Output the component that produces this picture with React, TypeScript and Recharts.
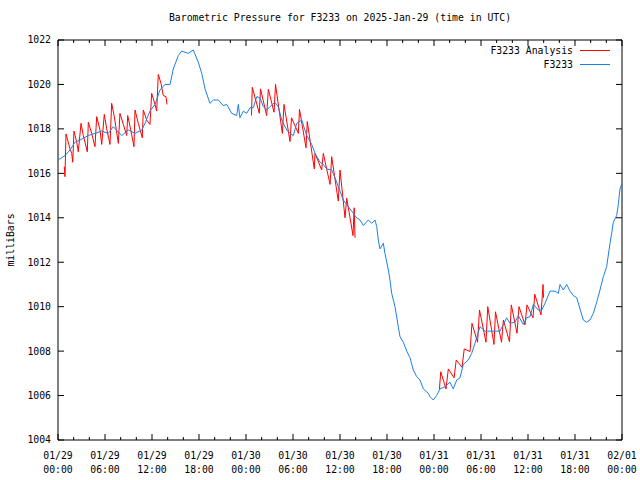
import { LineChart, Line, XAxis, YAxis, ReferenceArea } from "recharts";

// x axis: hours since 2025-01-29 00:00 UTC
const hourTicks = [0, 2, 4, 6, 8, 10, 12, 14, 16, 18, 20, 22, 24, 26, 28, 30, 32, 34, 36, 38, 40, 42, 44, 46, 48, 50, 52, 54, 56, 58, 60, 62, 64, 66, 68, 70, 72];
const dayLabels = ["01/29", "01/29", "01/29", "01/29", "01/30", "01/30", "01/30", "01/30", "01/31", "01/31", "01/31", "01/31", "02/01"];
const timeLabels = ["00:00", "06:00", "12:00", "18:00", "00:00", "06:00", "12:00", "18:00", "00:00", "06:00", "12:00", "18:00", "00:00"];
const pressureTicks = [1004, 1006, 1008, 1010, 1012, 1014, 1016, 1018, 1020, 1022];

// F3233 observations
const stationHours = [
  0, 0.89, 1.53, 2.17, 2.81, 3.87, 4.72, 5.58, 6.42, 7.06, 8.13, 8.97, 9.83, 10.69, 11.11, 11.74,
  12.38, 13.02, 13.66, 14.3, 14.72, 15.36, 15.79, 16.63, 17.27, 17.91, 18.35, 18.77, 19.4, 19.83,
  20.46, 21.1, 21.54, 22.17, 22.81, 23.02, 23.23, 23.66, 24.09, 24.51, 24.93, 25.37, 25.79, 26.21,
  26.64, 27.06, 27.7, 28.12, 28.56, 29.2, 29.62, 30.04, 30.48, 31.11, 31.75, 32.39, 32.81, 33.45,
  33.87, 34.3, 34.94, 35.36, 36.0, 36.42, 37.06, 37.49, 38.13, 38.55, 38.98, 39.61, 40.05, 40.47,
  40.69, 40.89, 41.11, 41.53, 41.74, 42.17, 42.38, 42.6, 43.02, 43.44, 43.66, 44.08, 44.52, 44.94,
  45.36, 45.79, 46.21, 46.64, 47.27, 47.49, 47.91, 48.34, 48.77, 49.4, 50.04, 50.46, 50.9, 51.32,
  51.74, 52.38, 52.81, 53.23, 53.87, 54.51, 55.15, 55.79, 56.43, 56.85, 57.28, 57.7, 58.34, 58.76,
  59.4, 59.83, 60.26, 60.68, 61.32, 61.75, 62.17, 62.81, 63.45, 63.87, 64.09, 64.51, 64.94, 65.36,
  65.79, 66.22, 66.64, 67.06, 67.49, 67.91, 68.34, 68.77, 69.19, 69.62, 70.04, 70.47, 70.68, 70.89,
  71.32, 71.53, 71.74, 72.0,
];
const stationPressure = [
  1016.6, 1016.8, 1017.05, 1017.4, 1017.5, 1017.7, 1017.8, 1017.9, 1017.8, 1018.1, 1017.7, 1017.95,
  1017.8, 1017.95, 1018.25, 1018.8, 1019.1, 1019.75, 1020.0, 1020.0, 1020.7, 1021.3, 1021.5, 1021.4,
  1021.55, 1021.0, 1020.5, 1019.8, 1019.15, 1019.3, 1019.3, 1019.05, 1019.1, 1018.7, 1018.6, 1019.1,
  1018.5, 1018.8, 1018.7, 1018.95, 1018.95, 1019.45, 1019.4, 1019.0, 1018.85, 1019.0, 1019.2, 1019.0,
  1018.4, 1017.95, 1017.8, 1017.7, 1018.25, 1018.4, 1017.7, 1017.3, 1016.9, 1016.5, 1016.4, 1016.2,
  1016.15, 1015.8, 1015.2, 1014.8, 1014.5, 1014.3, 1014.0, 1013.9, 1013.65, 1013.9, 1013.75, 1013.9,
  1013.6, 1013.0, 1012.6, 1012.85, 1012.4, 1011.65, 1011.2, 1010.6, 1010.0, 1009.1, 1008.65, 1008.4,
  1008.0, 1007.7, 1007.15, 1006.85, 1006.7, 1006.3, 1006.1, 1005.95, 1005.8, 1006.0, 1006.3, 1006.4,
  1006.6, 1006.3, 1006.7, 1006.8, 1007.4, 1007.6, 1007.9, 1008.35, 1009.1, 1008.9, 1008.9, 1008.9,
  1008.9, 1009.2, 1009.5, 1009.25, 1009.3, 1009.6, 1009.2, 1009.5, 1009.55, 1010.1, 1009.85, 1009.85,
  1010.15, 1010.7, 1010.7, 1010.6, 1011.0, 1010.75, 1011.0, 1010.7, 1010.5, 1010.4, 1009.9, 1009.4,
  1009.3, 1009.4, 1009.7, 1010.2, 1010.75, 1011.35, 1011.8, 1012.85, 1013.3, 1013.8, 1014.1, 1014.6,
  1015.3, 1015.55,
];

// F3233 Analysis, three runs (null = gap between runs)
const analysisHours = [
  0.8, 0.89, 1.02, 1.31, 1.53, 1.75, 1.88, 2.04, 2.39, 2.59, 2.94, 3.23, 3.45, 3.74, 3.87, 4.3, 4.72,
  4.94, 5.36, 5.58, 5.91, 6.22, 6.64, 6.85, 7.19, 7.7, 7.91, 8.34, 8.77, 8.9, 9.32, 9.7, 9.83, 10.25,
  10.76, 10.89, 11.32, 11.74, 11.96, 12.38, 12.6, 12.8, 13.15, 13.44, 13.79, 13.91,
  19,
  24.7, 24.8, 25.7, 25.85, 26.64, 26.85, 27.58, 27.77, 28.64, 28.85, 29.62, 29.81, 30.68, 30.83, 31.66,
  31.82, 32.72, 32.81, 33.66, 33.87, 34.73, 34.94, 35.78, 36.0, 36.64, 36.86, 37.66, 37.81, 37.92,
  43,
  48.7, 48.86, 49.53, 49.83, 50.56, 50.84, 51.58, 51.86, 52.6, 52.85, 53.56, 53.81, 54.64, 54.86,
  55.66, 55.85, 56.62, 56.86, 57.64, 57.87, 58.6, 58.85, 59.62, 59.87, 60.64, 60.86, 61.66, 61.92,
  61.98,
];
const analysisPressure = [
  1016.3, 1015.85, 1017.77, 1017.4, 1017.1, 1016.9, 1016.5, 1017.9, 1017.4, 1016.97, 1018.25, 1017.7,
  1017.4, 1016.97, 1018.3, 1017.8, 1017.2, 1018.55, 1017.95, 1017.3, 1018.65, 1018.0, 1017.3, 1019.15,
  1018.55, 1017.35, 1018.7, 1018.2, 1017.7, 1018.6, 1017.9, 1017.2, 1018.85, 1018.25, 1017.6, 1018.85,
  1018.4, 1018.2, 1019.6, 1019.1, 1018.8, 1020.45, 1020.05, 1019.5, 1019.45, 1019.1,
  null,
  1018.6, 1019.87, 1018.7, 1019.8, 1018.6, 1019.78, 1018.75, 1020.0, 1017.8, 1019.1, 1017.43, 1018.5,
  1017.8, 1018.88, 1017.15, 1018.33, 1016.2, 1016.9, 1016.15, 1016.9, 1015.5, 1016.75, 1014.75,
  1016.15, 1014.0, 1014.88, 1013.2, 1014.45, 1013.1,
  null,
  1006.3, 1007.07, 1006.3, 1007.2, 1006.8, 1007.6, 1007.27, 1008.1, 1007.98, 1009.25, 1008.4, 1009.85,
  1008.4, 1010.0, 1008.3, 1009.77, 1008.4, 1009.4, 1008.42, 1010.08, 1008.8, 1010.0, 1009.18, 1010.08,
  1009.5, 1010.56, 1009.63, 1011.0, 1010.4,
];

const seriesNames = ["F3233 Analysis", "F3233"];

const stationData = stationHours.map((hour, i) => ({ hour, pressure: stationPressure[i] }));
const analysisData = analysisHours.map((hour, i) => ({ hour, pressure: analysisPressure[i] }));

const FONT = "'DejaVu Sans Mono', 'Liberation Mono', monospace";
const FS = 9.8;
const PLOT_LEFT = 58;
const PLOT_RIGHT = 622;
const PLOT_TOP = 40;
const PLOT_BOTTOM = 440;
const RED = "#ff0000";
const BLUE = "#1a80e6";
const seriesColors = [RED, BLUE];

function HourTick(props: any) {
  const { x, payload } = props;
  const h = payload.value as number;
  const major = h % 6 === 0;
  const len = major ? 6 : 3;
  const idx = h / 6;
  return (
    <g>
      <line x1={x} x2={x} y1={PLOT_BOTTOM} y2={PLOT_BOTTOM - len} stroke="#000" />
      <line x1={x} x2={x} y1={PLOT_TOP} y2={PLOT_TOP + len} stroke="#000" />
      {major && (
        <text x={x} y={PLOT_BOTTOM + 19} textAnchor="middle" fontFamily={FONT} fontSize={FS} fill="#000">
          {dayLabels[idx]}
        </text>
      )}
      {major && (
        <text x={x} y={PLOT_BOTTOM + 33} textAnchor="middle" fontFamily={FONT} fontSize={FS} fill="#000">
          {timeLabels[idx]}
        </text>
      )}
    </g>
  );
}

function PressureTick(props: any) {
  const { y, payload } = props;
  return (
    <g>
      <line x1={PLOT_LEFT} x2={PLOT_LEFT + 6} y1={y} y2={y} stroke="#000" />
      <line x1={PLOT_RIGHT} x2={PLOT_RIGHT - 6} y1={y} y2={y} stroke="#000" />
      <text x={PLOT_LEFT - 7} y={y} dy="0.35em" textAnchor="end" fontFamily={FONT} fontSize={FS} fill="#000">
        {payload.value}
      </text>
    </g>
  );
}

export default function App() {
  return (
    <div style={{ position: "absolute", left: 0, top: 0, width: 640, height: 480, background: "#fff" }}>
      <div
        style={{
          position: "absolute",
          left: 0,
          width: 680,
          top: 12,
          textAlign: "center",
          fontFamily: FONT,
          fontSize: FS,
          color: "#000",
        }}
      >
        Barometric Pressure for F3233 on 2025-Jan-29 (time in UTC)
      </div>
      <div
        style={{
          position: "absolute",
          left: 10,
          top: 240,
          transform: "translate(-50%, -50%) rotate(-90deg)",
          fontFamily: FONT,
          fontSize: FS,
          color: "#000",
          whiteSpace: "nowrap",
        }}
      >
        milliBars
      </div>
      <LineChart
        width={640}
        height={480}
        margin={{ top: PLOT_TOP, right: 640 - PLOT_RIGHT, bottom: 0, left: 0 }}
        style={{ position: "absolute", left: 0, top: 0 }}
      >
        <XAxis
          dataKey="hour"
          type="number"
          domain={[0, 72]}
          ticks={hourTicks}
          interval={0}
          height={480 - PLOT_BOTTOM}
          tickLine={false}
          axisLine={false}
          tick={<HourTick />}
        />
        <YAxis
          type="number"
          domain={[1004, 1022]}
          ticks={pressureTicks}
          interval={0}
          width={PLOT_LEFT}
          tickLine={false}
          axisLine={false}
          tick={<PressureTick />}
        />
        <ReferenceArea x1={0} x2={72} y1={1004} y2={1022} fill="none" stroke="#000" strokeWidth={1} fillOpacity={0} />
        <Line
          data={analysisData}
          dataKey="pressure"
          name={seriesNames[0]}
          type="linear"
          stroke={RED}
          strokeWidth={1}
          dot={false}
          activeDot={false}
          connectNulls={false}
          isAnimationActive={false}
        />
        <Line
          data={stationData}
          dataKey="pressure"
          name={seriesNames[1]}
          type="linear"
          stroke={BLUE}
          strokeWidth={1}
          dot={false}
          activeDot={false}
          isAnimationActive={false}
        />
      </LineChart>
      <div
        style={{
          position: "absolute",
          right: 30,
          top: 43,
          fontFamily: FONT,
          fontSize: FS,
          color: "#000",
        }}
      >
        {seriesNames.map((name, i) => (
          <div key={name} style={{ display: "flex", alignItems: "center", justifyContent: "flex-end", height: 14 }}>
            <span>{name}</span>
            <span
              style={{
                display: "inline-block",
                width: 30,
                height: 0,
                borderTop: `1px solid ${seriesColors[i]}`,
                marginLeft: 7,
              }}
            />
          </div>
        ))}
      </div>
    </div>
  );
}
